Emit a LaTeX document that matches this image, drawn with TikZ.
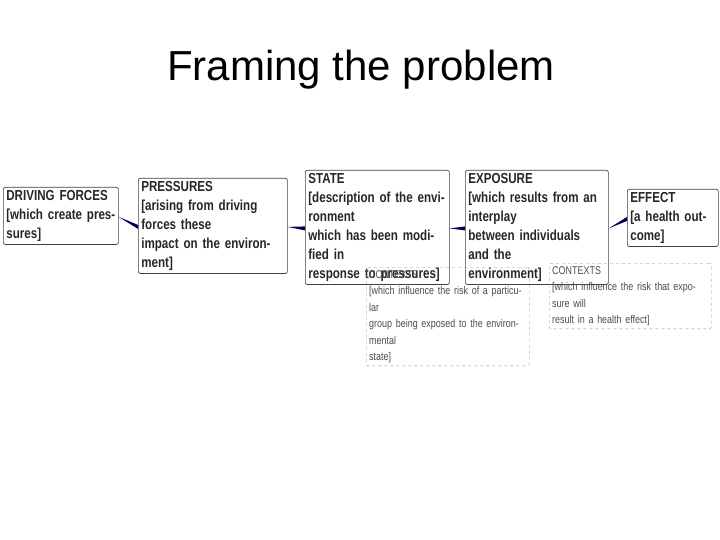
\documentclass[tikz,border=0pt]{standalone}
\usepackage{fontspec}
\setmainfont{Liberation Sans}
\newfontfamily\narrow[FakeStretch=0.8]{Liberation Sans}
\begin{document}
\begin{tikzpicture}[x=1pt,y=1pt,
 box/.style={draw=black!75,rounded corners=2pt,line width=0.7pt,anchor=north west,align=left,inner sep=3pt,font=\narrow\bfseries\fontsize{14.5}{19}\selectfont,text=black!85},
 ctx/.style={draw=black!45,dashed,rounded corners=2pt,anchor=north west,align=left,inner sep=3pt,font=\narrow\fontsize{11.2}{16.5}\selectfont,text=black!70},
 link/.style={fill=blue!35!black}]
\useasboundingbox (0,0) rectangle (720,-540);
\node[font=\fontsize{42}{48}\selectfont] (title) at (361,-70) {Framing the problem};
\node[box,text width=109,minimum height=48] (df) at (3,-187) {DRIVING FORCES\\{}[which create pressures]};
\node[box,text width=143,minimum height=65] (pr) at (138,-178) {PRESSURES\\{}[arising from driving forces these\\impact on the environment]};
\node[box,text width=138,minimum height=84] (st) at (305,-170) {STATE\\{}[description of the environment\\which has been modified in\\response to pressures]};
\node[box,text width=137,minimum height=84] (ex) at (465,-170) {EXPOSURE\\{}[which results from an interplay\\between individuals and the\\environment]};
\node[box,text width=85,minimum height=45] (ef) at (627,-189) {EFFECT\\{}[a health outcome]};
\node[ctx,text width=157,minimum height=81] (c1) at (366,-267) {CONTEXTS\\{}[which influence the risk of a particular\\group being exposed to the environmental\\state]};
\node[ctx,text width=156,minimum height=63] (c2) at (549,-263) {CONTEXTS\\{}[which influence the risk that exposure will\\result in a health effect]};
\foreach \a/\b in {df/pr,pr/st,st/ex,ex/ef}{
 \fill[link] ([yshift=-1pt]\a.east) -- ([yshift=1pt]\b.west) -- ([yshift=-3pt]\b.west) -- cycle;
}
\end{tikzpicture}
\end{document}
